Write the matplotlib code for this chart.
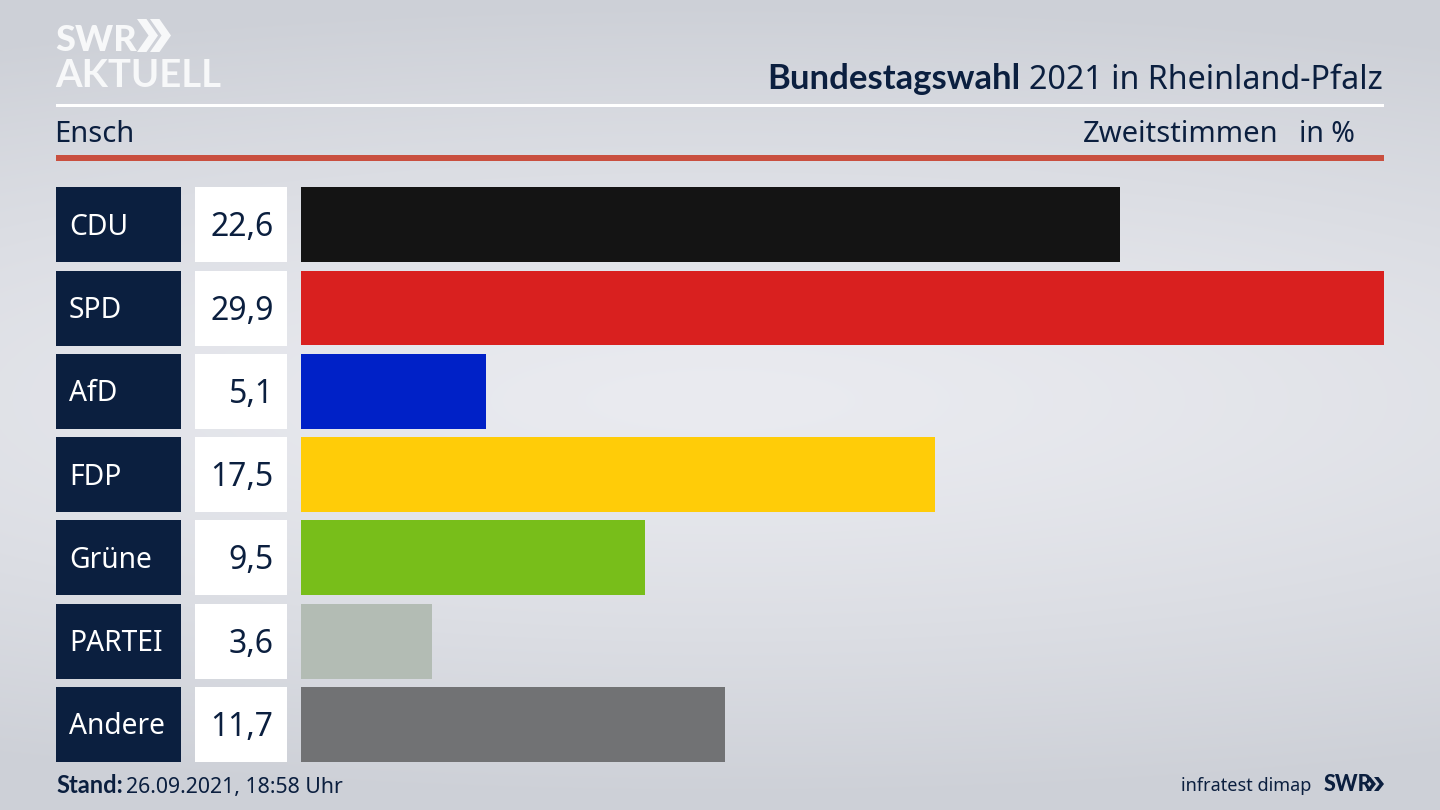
import numpy as np
import matplotlib
matplotlib.use('Agg')
import matplotlib.pyplot as plt
from matplotlib.patches import Polygon, Rectangle

parties = ['CDU', 'SPD', 'AfD', 'FDP', 'Grüne', 'PARTEI', 'Andere']
values = [22.6, 29.9, 5.1, 17.5, 9.5, 3.6, 11.7]
colors = ['#141414', '#d9201f', '#0021c7', '#ffcc08', '#78be1a', '#b3bcb4', '#717274']

NAVY = '#0b1f3f'
W, H = 1440, 810

plt.rcParams['font.family'] = ['Noto Sans', 'DejaVu Sans']

fig = plt.figure(figsize=(W / 100, H / 100), dpi=100)

# pixel coordinate layer for background and header
bg = fig.add_axes([0, 0, 1, 1])
bg.set_xlim(0, W)
bg.set_ylim(H, 0)
bg.axis('off')

yy, xx = np.mgrid[0:H, 0:W]
d = np.sqrt(((xx - 720) / 1700) ** 2 + ((yy - 400) / 400) ** 2)
d = np.clip(d, 0, 1)
top = np.array([0xcd, 0xd0, 0xd7]) / 255
mid = np.array([0xea, 0xeb, 0xf0]) / 255
img = mid + (top - mid) * d[..., None] ** 1.3
bg.imshow(img, extent=(0, W, H, 0), aspect='auto', zorder=0)
bg.set_xlim(0, W)
bg.set_ylim(H, 0)


def chevrons(x, y, h, w, gap, color):
    # double arrow from the SWR logo
    for i in range(2):
        x0 = x + i * gap
        pts = [(x0, y), (x0 + w * 0.45, y), (x0 + w, y + h / 2),
               (x0 + w * 0.45, y + h), (x0, y + h), (x0 + w * 0.55, y + h / 2)]
        bg.add_patch(Polygon(pts, closed=True, color=color, lw=0, zorder=3))


# logo
bg.text(55, 51, 'SWR', fontsize=26, fontweight='black', family='Lato', color='#f7f8f9',
        va='baseline', ha='left')
chevrons(137, 19, 33, 21, 13, '#f7f8f9')
bg.text(55, 87, 'AKTUELL', fontsize=27.5, fontweight='bold', family='Lato', color='#f7f8f9',
        va='baseline', ha='left')

# title
t = bg.text(1383, 89, '2021 in Rheinland-Pfalz', fontsize=23.2, color=NAVY, ha='right', va='baseline')
fig.canvas.draw()
bb = t.get_window_extent()
bg.text(bb.x0 - 9, 89, 'Bundestagswahl', fontsize=24.9, fontweight='bold', family='Lato', color=NAVY,
        ha='right', va='baseline')

bg.add_patch(Rectangle((56, 104), 1328, 3, color='#ffffff', lw=0, zorder=2))
bg.add_patch(Rectangle((56, 155), 1328, 5.5, color='#c94f3f', lw=0, zorder=2))

bg.text(54.5, 142, 'Ensch', fontsize=21, color=NAVY, va='baseline')
bg.text(1279, 142, 'Zweitstimmen', fontsize=21, color=NAVY, ha='right', va='baseline')
bg.text(1355, 142, 'in %', fontsize=20.5, color=NAVY, ha='right', va='baseline')

# bars
x0, x1, y0, y1 = 301.2, 1384, 187.2, 762
ax = fig.add_axes([x0 / W, 1 - y1 / H, (x1 - x0) / W, (y1 - y0) / H])
ax.patch.set_alpha(0)
rows = np.arange(len(parties))
ax.barh(rows, values, height=0.9, color=colors)
ax.set_xlim(0, max(values))
ax.set_ylim(len(parties) - 0.55, -0.45)
ax.axis('off')

# party and value boxes sit next to the bars
for i, (party, value) in enumerate(zip(parties, values)):
    top_px = y0 + i * 83.3
    mid_px = top_px + 37.5
    bg.add_patch(Rectangle((56, top_px), 125, 75, color=NAVY, lw=0, zorder=2))
    bg.add_patch(Rectangle((195, top_px), 92, 75, color='#ffffff', lw=0, zorder=2))
    bg.text(69, mid_px + 10, party, fontsize=20.3, color='#ffffff', va='baseline', zorder=3)
    bg.text(273.5, mid_px + 11.5, f'{value:.1f}'.replace('.', ','), fontsize=23, color=NAVY,
            ha='right', va='baseline', zorder=3)

# footer
bg.text(56, 793, 'Stand:', fontsize=17, fontweight='bold', family='Lato', color=NAVY, va='baseline')
bg.text(126, 793, '26.09.2021, 18:58 Uhr', fontsize=15.3, color=NAVY, va='baseline')
bg.text(1311, 791, 'infratest dimap', fontsize=13, color=NAVY, ha='right', va='baseline')
bg.text(1324, 791, 'SWR', fontsize=15.5, fontweight='black', family='Lato', color=NAVY, va='baseline')
chevrons(1366, 777, 14, 10, 8, NAVY)

fig.savefig('out.png', dpi=100)
